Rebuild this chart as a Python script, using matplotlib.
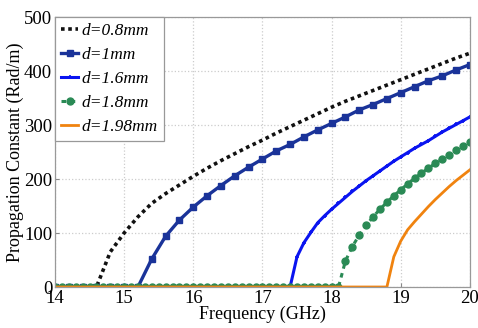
import numpy as np
import matplotlib
matplotlib.use("Agg")
import matplotlib.pyplot as plt

# ---- data ----
f_08 = [14.0, 14.6, 14.8, 15.0, 15.2, 15.4, 15.6, 15.8, 16.0, 16.2, 16.4, 16.6, 16.8, 17.0,
        17.2, 17.4, 17.6, 17.8, 18.0, 18.2, 18.4, 18.6, 18.8, 19.0, 19.2, 19.4, 19.6, 19.8, 20.0]
b_08 = [0, 0, 65, 100, 130, 155, 173, 189, 205, 220, 234, 247, 260, 272,
        285, 297, 309, 321, 333, 344, 354, 364, 374, 384, 394, 404, 414, 424, 433]

f_10 = [14.0, 14.2, 14.4, 14.6, 14.8, 15.0, 15.2, 15.4, 15.6, 15.8, 16.0, 16.2, 16.4, 16.6, 16.8, 17.0,
        17.2, 17.4, 17.6, 17.8, 18.0, 18.2, 18.4, 18.6, 18.8, 19.0, 19.2, 19.4, 19.6, 19.8, 20.0]
b_10 = [0, 0, 0, 0, 0, 0, 0, 52, 94, 124, 148, 169, 188, 206, 222, 237,
        252, 264, 278, 291, 303, 315, 328, 338, 349, 360, 371, 382, 391, 402, 412]

f_16 = [14.0, 17.4, 17.5, 17.6, 17.7, 17.8, 17.9, 18.0, 18.1, 18.2, 18.3, 18.4, 18.5, 18.6, 18.7,
        18.8, 18.9, 19.0, 19.1, 19.2, 19.3, 19.4, 19.5, 19.6, 19.7, 19.8, 19.9, 20.0]
b_16 = [0, 0, 56, 82, 101, 119, 132, 144, 155, 166, 177, 187, 197, 206, 215,
        224, 233, 241, 249, 257, 264, 271, 279, 287, 294, 301, 308, 315]

f_18 = [14.0, 14.1, 14.2, 14.3, 14.4, 14.5, 14.6, 14.7, 14.8, 14.9, 15.0, 15.1, 15.2, 15.3, 15.4,
        15.5, 15.6, 15.7, 15.8, 15.9, 16.0, 16.1, 16.2, 16.3, 16.4, 16.5, 16.6, 16.7, 16.8, 16.9,
        17.0, 17.1, 17.2, 17.3, 17.4, 17.5, 17.6, 17.7, 17.8, 17.9, 18.0, 18.1, 18.2, 18.3, 18.4,
        18.5, 18.6, 18.7, 18.8, 18.9, 19.0, 19.1, 19.2, 19.3, 19.4, 19.5, 19.6, 19.7, 19.8, 19.9, 20.0]
b_18 = [0] * 42 + [48, 75, 96, 114, 130, 144, 157, 169, 180, 191, 201, 211, 220, 229, 237,
                   245, 253, 261, 269]

f_198 = [14.0, 18.8, 18.9, 19.0, 19.1, 19.2, 19.3, 19.4, 19.5, 19.6, 19.7, 19.8, 19.9, 20.0]
b_198 = [0, 0, 56, 85, 106, 121, 135, 149, 162, 174, 186, 197, 207, 217]

labels = ["d=0.8mm", "d=1mm", "d=1.6mm", "d=1.8mm", "d=1.98mm"]
xticks = [14, 15, 16, 17, 18, 19, 20]
yticks = [0, 100, 200, 300, 400, 500]

plt.rcParams['font.family'] = ['Liberation Serif', 'DejaVu Serif']

fig = plt.figure(figsize=(4.78, 3.28), dpi=100)
ax = fig.add_axes([0.115, 0.125, 0.868, 0.823])

ax.plot(f_08, b_08, color='#111111', linestyle=(0, (1, 1)), linewidth=2.6, label=labels[0])
ax.plot(f_10, b_10, color='#1a3399', linestyle='-', linewidth=2.4, marker='s', markersize=5,
        label=labels[1])
ax.plot(f_16, b_16, color='#0a14f0', linestyle='-', linewidth=2.2, marker='+', markersize=3,
        markeredgewidth=1.2, label=labels[2])
ax.plot(f_18, b_18, color='#2a8a55', linestyle=(0, (1.5, 1.5)), linewidth=2.2, marker='o',
        markersize=5, label=labels[3])
ax.plot(f_198, b_198, color='#f0830f', linestyle='-', linewidth=2.0, label=labels[4])

ax.set_xlim(14, 20)
ax.set_ylim(0, 500)
ax.set_xticks(xticks)
ax.set_yticks(yticks)
ax.tick_params(labelsize=13.5, direction='in', length=3, color='#888888', pad=2)
ax.grid(True, color='#cccccc', linestyle=':', linewidth=0.9)
for s in ax.spines.values():
    s.set_color('#999999')
    s.set_linewidth(0.9)

ax.set_xlabel("Frequency (GHz)", fontsize=13, labelpad=-1)
ax.set_ylabel("Propagation Constant (Rad/m)", fontsize=13, labelpad=0)

leg = ax.legend(loc='upper left', prop={'style': 'italic', 'size': 12.5}, fancybox=False,
                framealpha=1, edgecolor='#999999', borderaxespad=0.0, handlelength=1.0,
                handletextpad=0.2, labelspacing=0.45, borderpad=0.35)
leg.get_frame().set_linewidth(0.9)

fig.savefig("out.png", dpi=100)
